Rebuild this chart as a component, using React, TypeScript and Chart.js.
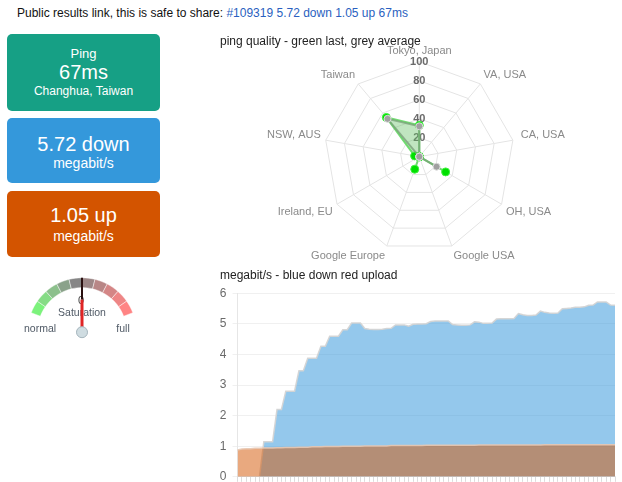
import React, { useEffect, useRef } from 'react';
import { Chart, registerables } from 'chart.js';

Chart.register(...registerables);
Chart.defaults.font.family = "'Liberation Sans', Arial, sans-serif";

const FONT = "'Liberation Sans', Arial, sans-serif";

// ---------- header / summary texts ----------
const headerText = 'Public results link, this is safe to share: ';
const headerLink = '#109319 5.72 down 1.05 up 67ms';
const pingLabel = 'Ping';
const pingValue = '67ms';
const pingServer = 'Changhua, Taiwan';
const downText = '5.72 down';
const upText = '1.05 up';
const unitText = 'megabit/s';

// ---------- radar (ping quality) ----------
const radarTitle = 'ping quality - green last, grey average';
const radarLabels = ['Tokyo, Japan', 'VA, USA', 'CA, USA', 'OH, USA', 'Google USA', 'Google Europe', 'Ireland, EU', 'NSW, AUS', 'Taiwan'];
const pingLast = [33, 0, 0, 32, 0, 14, 0, 5, 54];
const pingAverage = [32, 0, 0, 21, 0, 0, 0, 0, 52];
const radarMax = 100;
const radarStep = 20;

// ---------- area chart (speed) ----------
const speedTitle = 'megabit/s - blue down red upload';
const download = [
  0, 0, 0, 0, 0, 0, 1.15, 1.15, 1.15, 2.2,
  2.2, 2.8, 2.8, 2.8, 3.47, 3.47, 3.88, 3.88, 3.88, 4.27,
  4.27, 4.6, 4.6, 4.6, 4.81, 4.81, 5.03, 5.03, 5.03, 4.85,
  4.83, 4.82, 4.82, 4.83, 4.85, 4.86, 4.97, 4.97, 4.97, 4.93,
  4.99, 5.0, 5.0, 5.01, 5.08, 5.1, 5.1, 5.1, 5.1, 4.98,
  4.97, 4.96, 4.96, 4.97, 5.07, 5.06, 5.02, 5.02, 5.03, 5.16,
  5.17, 5.17, 5.17, 5.18, 5.34, 5.3, 5.28, 5.28, 5.29, 5.42,
  5.38, 5.36, 5.35, 5.36, 5.5, 5.51, 5.52, 5.55, 5.55, 5.56,
  5.61, 5.62, 5.72, 5.72, 5.72, 5.62, 5.61,
];
const upload = [
  0.88, 0.91, 0.92, 0.92, 0.93, 0.93, 0.94, 0.94, 0.94, 0.95,
  0.95, 0.96, 0.96, 0.96, 0.97, 0.97, 0.97, 0.98, 0.98, 0.98,
  0.99, 0.99, 0.99, 0.99, 1.0, 1.0, 1.0, 1.0, 1.0, 1.01,
  1.01, 1.01, 1.01, 1.01, 1.01, 1.02, 1.02, 1.02, 1.02, 1.02,
  1.02, 1.02, 1.02, 1.03, 1.03, 1.03, 1.03, 1.03, 1.03, 1.03,
  1.03, 1.03, 1.03, 1.03, 1.03, 1.04, 1.04, 1.04, 1.04, 1.04,
  1.04, 1.04, 1.04, 1.04, 1.04, 1.04, 1.04, 1.04, 1.04, 1.04,
  1.05, 1.05, 1.05, 1.05, 1.05, 1.05, 1.05, 1.05, 1.05, 1.05,
  1.05, 1.05, 1.05, 1.05, 1.05, 1.05, 1.05,
];
const sampleLabels = download.map(() => '');
const speedMax = 6;
const speedStep = 1;

// ---------- gauge (saturation) ----------
const gaugeSegments = [1, 1, 1, 1, 1, 1, 1, 1, 1, 1];
const gaugeColors = ['#7cf27c', '#86dc86', '#8cc08c', '#8aa28a', '#868686', '#9c8686', '#b88686', '#d48686', '#ee8686', '#ff8484'];
const gaugeNeedle = 50; // percent of arc
const gaugeValueText = '0';
const gaugeTitle = 'Saturation';
const gaugeMinText = 'normal';
const gaugeMaxText = 'full';

const radarPointLabelPlugin = {
  id: 'radarPointLabels',
  afterDraw(chart: any) {
    const scale = chart.scales.r;
    const ctx = chart.ctx;
    ctx.save();
    ctx.font = `11px ${FONT}`;
    ctx.fillStyle = '#8a8a8a';
    radarLabels.forEach((label, i) => {
      const a = (360 / radarLabels.length) * i;
      const pos = scale.getPointPosition(i, scale.drawingArea + 5);
      let align = 'center';
      let x = pos.x;
      if (a > 0.5 && a < 179.5) { align = 'left'; if (a > 60 && a < 100) x += 3; }
      else if (a > 180.5 && a < 359.5) align = 'right';
      let base = 'middle';
      let y = pos.y;
      if (a < 89.5 || a > 270.5) { base = 'bottom'; if (a > 60 && a < 300) y += 1; }
      else if (a > 90.5 && a < 269.5) base = 'top';
      ctx.textAlign = align;
      ctx.textBaseline = base;
      ctx.fillText(label, x, y);
    });
    ctx.restore();
  },
};

const needlePlugin = {
  id: 'gaugeNeedle',
  afterDraw(chart: any) {
    const arc = chart.getDatasetMeta(0).data[0];
    const cx = arc.x;
    const cy = arc.y;
    const R = arc.outerRadius;
    const ctx = chart.ctx;
    ctx.save();
    ctx.textAlign = 'center';
    ctx.textBaseline = 'middle';
    ctx.fillStyle = '#505a66';
    ctx.font = `10.5px ${FONT}`;
    ctx.fillText(gaugeTitle, cx, cy - 19);
    ctx.fillText(gaugeMinText, cx - 42, cy - 3);
    ctx.fillText(gaugeMaxText, cx + 41, cy - 3);
    ctx.fillStyle = '#444';
    ctx.font = `11px ${FONT}`;
    ctx.fillText(gaugeValueText, cx - 1, cy - 31);
    const ang = ((-69 + (138 * gaugeNeedle) / 100) * Math.PI) / 180;
    const dx = Math.sin(ang);
    const dy = -Math.cos(ang);
    ctx.lineCap = 'butt';
    ctx.strokeStyle = '#e02424';
    ctx.lineWidth = 3;
    ctx.beginPath();
    ctx.moveTo(cx, cy);
    ctx.lineTo(cx + dx * (R * 0.6), cy + dy * (R * 0.6));
    ctx.stroke();
    ctx.strokeStyle = '#2a1010';
    ctx.lineWidth = 2;
    ctx.beginPath();
    ctx.moveTo(cx + dx * (R * 0.6), cy + dy * (R * 0.6));
    ctx.lineTo(cx + dx * R, cy + dy * R);
    ctx.stroke();
    ctx.fillStyle = '#cfdce1';
    ctx.strokeStyle = '#a4b4bc';
    ctx.lineWidth = 1;
    ctx.beginPath();
    ctx.arc(cx, cy, 5.5, 0, Math.PI * 2);
    ctx.fill();
    ctx.stroke();
    ctx.restore();
  },
};

const boxStyle = (top: number, height: number, color: string): React.CSSProperties => ({
  position: 'absolute',
  left: 7,
  top,
  width: 153,
  height,
  background: color,
  borderRadius: 5,
});

const line = (center: number, size: number, text: string) => (
  <div
    style={{
      position: 'absolute',
      left: 7,
      width: 153,
      top: center - 12,
      height: 24,
      lineHeight: '24px',
      fontSize: size,
      color: '#fff',
      textAlign: 'center',
      whiteSpace: 'nowrap',
    }}
  >
    {text}
  </div>
);

export default function App() {
  const radarRef = useRef<HTMLCanvasElement>(null);
  const lineRef = useRef<HTMLCanvasElement>(null);
  const gaugeRef = useRef<HTMLCanvasElement>(null);

  useEffect(() => {
    const radar = new Chart(radarRef.current as HTMLCanvasElement, {
      type: 'radar',
      data: {
        labels: radarLabels,
        datasets: [
          {
            label: 'average',
            data: pingAverage,
            backgroundColor: 'rgba(150,150,150,0.07)',
            borderColor: 'rgba(120,160,120,0.75)',
            borderWidth: 2,
            pointBackgroundColor: '#a0a0a0',
            pointBorderColor: '#dadada',
            pointBorderWidth: 1,
            pointRadius: 3.5,
          },
          {
            label: 'last',
            data: pingLast,
            backgroundColor: 'rgba(90,200,90,0.36)',
            borderColor: 'rgba(100,215,100,0.9)',
            borderWidth: 2,
            pointBackgroundColor: '#00e000',
            pointBorderColor: '#40f040',
            pointBorderWidth: 1,
            pointRadius: 4,
          },
        ],
      },
      options: {
        animation: false,
        responsive: false,
        layout: { padding: { left: 5 } },
        plugins: {
          legend: { display: false },
          tooltip: { enabled: false },
          title: {
            display: true,
            text: radarTitle,
            align: 'start',
            color: '#222',
            font: { size: 12, weight: 'normal' },
            padding: { top: 4, bottom: 4 },
          },
        },
        scales: {
          r: {
            min: 0,
            max: radarMax,
            ticks: {
              stepSize: radarStep,
              showLabelBackdrop: false,
              color: '#6a6a6a',
              font: { size: 11, weight: 'bold' },
            },
            grid: { color: '#e4e4e4' },
            angleLines: { color: '#e4e4e4' },
            pointLabels: { display: false },
            afterFit: (s: any) => {
              s.drawingArea = 95;
              s.xCenter = 204.3;
              s.yCenter = 126.7;
            },
          } as any,
        },
      },
      plugins: [radarPointLabelPlugin],
    });

    const speed = new Chart(lineRef.current as HTMLCanvasElement, {
      type: 'line',
      data: {
        labels: sampleLabels,
        datasets: [
          {
            label: 'up',
            data: upload,
            fill: 'origin',
            backgroundColor: 'rgba(211,84,0,0.5)',
            borderColor: 'rgba(232,200,178,0.9)',
            borderWidth: 1.5,
            pointRadius: 0,
            tension: 0,
          },
          {
            label: 'down',
            data: download,
            fill: 'origin',
            backgroundColor: 'rgba(52,152,219,0.53)',
            borderColor: 'rgba(212,212,212,0.95)',
            borderWidth: 1.5,
            pointRadius: 0,
            tension: 0,
          },
        ],
      },
      options: {
        animation: false,
        responsive: false,
        layout: { padding: { left: 5, right: 5, bottom: 2, top: 0 } },
        plugins: {
          legend: { display: false },
          tooltip: { enabled: false },
          title: {
            display: true,
            text: speedTitle,
            align: 'start',
            color: '#222',
            font: { size: 12, weight: 'normal' },
            padding: { top: 3, bottom: 11 },
          },
        },
        scales: {
          x: {
            grid: { drawOnChartArea: false, color: '#dcdcdc', tickLength: 5 },
            border: { color: '#e6e6e6' },
            ticks: { display: false, autoSkip: false },
          },
          y: {
            min: 0,
            max: speedMax,
            ticks: { stepSize: speedStep, color: '#6a6a6a', font: { size: 12 }, padding: 6 },
            grid: { color: '#f0f0f0', tickLength: 5 },
            border: { color: '#e6e6e6' },
            afterFit: (s: any) => {
              s.width = 17.5;
            },
          },
        },
      },
    });

    const gauge = new Chart(gaugeRef.current as HTMLCanvasElement, {
      type: 'doughnut',
      data: {
        labels: gaugeSegments.map((_, i) => String(i)),
        datasets: [
          {
            data: gaugeSegments,
            backgroundColor: gaugeColors,
            borderColor: 'rgba(255,255,255,0.45)',
            borderWidth: 1,
          },
        ],
      },
      options: {
        animation: false,
        responsive: false,
        rotation: -69,
        circumference: 138,
        cutout: '82%',
        radius: 54.4,
        plugins: { legend: { display: false }, tooltip: { enabled: false } },
      } as any,
      plugins: [needlePlugin],
    });

    return () => {
      radar.destroy();
      speed.destroy();
      gauge.destroy();
    };
  }, []);

  return (
    <div
      style={{
        position: 'absolute',
        left: 0,
        top: 0,
        width: 622,
        height: 482,
        background: '#fff',
        fontFamily: FONT,
        overflow: 'hidden',
      }}
    >
      <div style={{ position: 'absolute', left: 17, top: 5, fontSize: 12, lineHeight: '16px', color: '#111', whiteSpace: 'nowrap' }}>
        {headerText}
        <span style={{ color: '#2a5fc0' }}>{headerLink}</span>
      </div>

      <div style={boxStyle(34, 77, '#16a085')} />
      {line(53.5, 13, pingLabel)}
      {line(72.2, 20, pingValue)}
      {line(91, 12, pingServer)}

      <div style={boxStyle(118, 65, '#3498db')} />
      {line(143.7, 20, downText)}
      {line(162.5, 14, unitText)}

      <div style={boxStyle(191, 66, '#d35400')} />
      {line(215.3, 20, upText)}
      {line(235.5, 14, unitText)}

      <canvas ref={gaugeRef} width={160} height={90} style={{ position: 'absolute', left: 2, top: 252, width: 160, height: 90 }} />
      <canvas ref={radarRef} width={405} height={235} style={{ position: 'absolute', left: 215, top: 30, width: 405, height: 235 }} />
      <canvas ref={lineRef} width={405} height={225} style={{ position: 'absolute', left: 215, top: 265, width: 405, height: 225 }} />
    </div>
  );
}
